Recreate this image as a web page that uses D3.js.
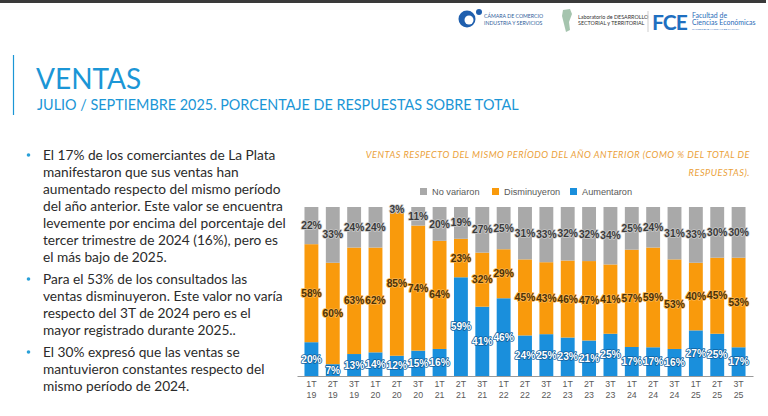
<!DOCTYPE html>
<html>
<head>
<meta charset="utf-8">
<script src="https://cdn.jsdelivr.net/npm/d3@7"></script>
<style>
  body { margin: 0; background: #fff; }
  svg { display: block; }
</style>
</head>
<body>
<svg id="slide" width="768" height="416"></svg>
<script>
// datos del grafico (ventas respecto del mismo periodo del año anterior)
const periods = ["1T 19","2T 19","3T 19","1T 20","2T 20","3T 20","1T 21","2T 21","3T 21","1T 22","2T 22",
                 "3T 22","1T 23","2T 23","3T 23","1T 24","2T 24","3T 24","1T 25","2T 25","3T 25"];
const aumentaron   = [20, 7,13,14,12,15,16,59,41,46,24,25,23,21,25,17,17,16,27,25,17];
const disminuyeron = [58,60,63,62,85,74,64,23,32,29,45,43,46,47,41,57,59,53,40,45,53];
const noVariaron   = [22,33,24,24, 3,11,20,19,27,25,31,33,32,32,34,25,24,31,33,30,30];
const seriesNames = ["Aumentaron","Disminuyeron","No variaron"];
const legendOrder = ["No variaron","Disminuyeron","Aumentaron"];

const bullets = [
  ["El 17% de los comerciantes de La Plata","manifestaron que sus ventas han","aumentado respecto del mismo período",
   "del año anterior. Este valor se encuentra","levemente por encima del porcentaje del",
   "tercer trimestre de 2024 (16%), pero es","el más bajo de 2025."],
  ["Para el 53% de los consultados las","ventas disminuyeron. Este valor no varía",
   "respecto del 3T de 2024 pero es el","mayor registrado durante 2025.."],
  ["El 30% expresó que las ventas se","mantuvieron constantes respecto del","mismo período de 2024."]
];

const colors = {"Aumentaron":"#1a8fdc","Disminuyeron":"#f99a0c","No variaron":"#a9a9a9"};
const labelFill = {"Aumentaron":"#ffffff","Disminuyeron":"#4a3005","No variaron":"#3a3a3a"};
const labelHalo = {"Aumentaron":"#0f5f9e","Disminuyeron":"#fbb24a","No variaron":"#c8c8c8"};

const blue = "#1b96d6";
const font = "Lato, 'Noto Sans', sans-serif";

var svg = d3.select("#slide");

// barra superior
svg.append("rect").attr("x",0).attr("y",0).attr("width",766).attr("height",3).attr("fill","#3a3a3a");

// logos (aprox.)
var logos = svg.append("g");
logos.append("circle").attr("cx",467).attr("cy",19).attr("r",8.5).attr("fill","#1f5fae");
logos.append("circle").attr("cx",469).attr("cy",20).attr("r",4.5).attr("fill","#fff");
logos.append("circle").attr("cx",479).attr("cy",12).attr("r",3).attr("fill","#1f5fae");
logos.append("text").attr("x",484).attr("y",18).attr("font-size",5.2).attr("fill","#2f5d9a")
  .attr("font-family",font).text("CÁMARA DE COMERCIO");
logos.append("text").attr("x",484).attr("y",24.5).attr("font-size",5.2).attr("fill","#2f5d9a")
  .attr("font-family",font).text("INDUSTRIA Y SERVICIOS");
logos.append("path").attr("d","M563,10 L570,9 L572,14 L569,22 L570,30 L566,32 L564,24 L562,16 Z")
  .attr("fill","#8fb59a").attr("opacity",0.8);
logos.append("text").attr("x",578).attr("y",19).attr("font-size",5.4).attr("fill","#333")
  .attr("font-family",font).text("Laboratorio de DESARROLLO");
logos.append("text").attr("x",578).attr("y",25).attr("font-size",5.4).attr("fill","#333")
  .attr("font-family",font).text("SECTORIAL y TERRITORIAL");
logos.append("line").attr("x1",648).attr("x2",648).attr("y1",11).attr("y2",32).attr("stroke","#cfcfcf");
logos.append("text").attr("x",652).attr("y",30).attr("font-size",21).attr("font-weight",700)
  .attr("fill","#1f6fc0").attr("font-family",font).attr("letter-spacing",-1).text("FCE");
logos.append("text").attr("x",692).attr("y",18).attr("font-size",7).attr("fill","#2a6cb8")
  .attr("font-family",font).text("Facultad de");
logos.append("text").attr("x",692).attr("y",25).attr("font-size",7).attr("fill","#2a6cb8")
  .attr("font-family",font).text("Ciencias Económicas");
logos.append("text").attr("x",692).attr("y",30).attr("font-size",2.6).attr("fill","#2a6cb8")
  .attr("font-family",font).text("UNIVERSIDAD NACIONAL DE LA PLATA");

// titulo
svg.append("line").attr("x1",13.5).attr("x2",13.5).attr("y1",55).attr("y2",115).attr("stroke",blue).attr("stroke-width",1.2);
svg.append("text").attr("x",36).attr("y",89).attr("font-size",28).attr("fill",blue)
  .attr("font-family",font).text("VENTAS");
svg.append("text").attr("x",37).attr("y",109.5).attr("font-size",14.4).attr("fill",blue)
  .attr("font-family",font).text("JULIO / SEPTIEMBRE 2025. PORCENTAJE DE RESPUESTAS SOBRE TOTAL");

// texto de la izquierda
var paraY = [160, 284, 357];
var lineH = 17;
var txt = svg.append("g").attr("font-family",font).attr("font-size",13.7).attr("fill","#2b2b2b");
bullets.forEach((lines,i)=>{
  txt.append("circle").attr("cx",28.5).attr("cy",paraY[i]-5).attr("r",1.8).attr("fill","#2aa0d8");
  lines.forEach((l,j)=>{
    txt.append("text").attr("x",43).attr("y",paraY[i]+j*lineH).text(l);
  });
});

// titulo del grafico
var ct = svg.append("g").attr("font-family",font).attr("font-size",9.2).attr("font-style","italic")
  .attr("fill","#eba13a").attr("text-anchor","end").attr("letter-spacing",0.5);
ct.append("text").attr("x",750).attr("y",158).text("VENTAS RESPECTO DEL MISMO PERÍODO DEL AÑO ANTERIOR (COMO % DEL TOTAL DE");
ct.append("text").attr("x",750).attr("y",176).text("RESPUESTAS).");

// leyenda
var legX = [420, 492, 570];
var leg = svg.append("g").attr("font-family","'Liberation Sans', Arial, sans-serif").attr("font-size",9.2).attr("fill","#595959");
legendOrder.forEach((n,i)=>{
  leg.append("rect").attr("x",legX[i]).attr("y",188).attr("width",7).attr("height",7).attr("fill",colors[n]);
  leg.append("text").attr("x",legX[i]+12).attr("y",195).text(n);
});

// grafico
const x0 = 297, x1 = 753, yTop = 207, yBase = 376;
var x = d3.scaleBand().domain(periods).range([x0,x1]).paddingInner(0.35).paddingOuter(0.35);
var y = d3.scaleLinear().domain([0,1]).range([yBase,yTop]);

var rows = periods.map((p,i)=>({period:p, "Aumentaron":aumentaron[i], "Disminuyeron":disminuyeron[i], "No variaron":noVariaron[i]}));
var stack = d3.stack().keys(seriesNames).offset(d3.stackOffsetExpand);
var stacked = stack(rows);

var chart = svg.append("g");
chart.selectAll("g.serie")
  .data(stacked)
  .join("g")
    .attr("class","serie")
    .attr("fill",d=>colors[d.key])
  .selectAll("rect")
  .data(d=>d)
  .join("rect")
    .attr("x",d=>x(d.data.period))
    .attr("y",d=>y(d[1]))
    .attr("height",d=>y(d[0])-y(d[1]))
    .attr("width",x.bandwidth());

// etiquetas
stacked.forEach(s=>{
  chart.append("g")
    .attr("font-family","'Liberation Sans', Arial, sans-serif")
    .attr("font-size",10.2).attr("font-weight",700).attr("text-anchor","middle")
    .selectAll("text")
    .data(s)
    .join("text")
      .attr("x",d=>x(d.data.period)+x.bandwidth()/2)
      .attr("y",d=>(y(d[0])+y(d[1]))/2+3.6)
      .attr("fill",labelFill[s.key])
      .attr("stroke",labelHalo[s.key]).attr("stroke-width",1.6).attr("paint-order","stroke")
      .attr("stroke-linejoin","round")
      .text(d=>d.data[s.key]+"%");
});

// eje x
var xAxis = chart.append("g").attr("transform",`translate(0,${yBase})`)
  .call(d3.axisBottom(x).tickSize(0).tickFormat(""));
xAxis.select(".domain").attr("stroke","#9a9a9a").attr("stroke-width",1.2);
xAxis.selectAll(".tick").each(function(p){
  var t = d3.select(this).append("text").attr("fill","#595959")
    .attr("font-family","'Liberation Sans', Arial, sans-serif").attr("font-size",8.8).attr("text-anchor","middle");
  p.split(" ").forEach((part,k)=>{
    t.append("tspan").attr("x",0).attr("y",11+k*10.5).text(part);
  });
});
</script>
</body>
</html>
